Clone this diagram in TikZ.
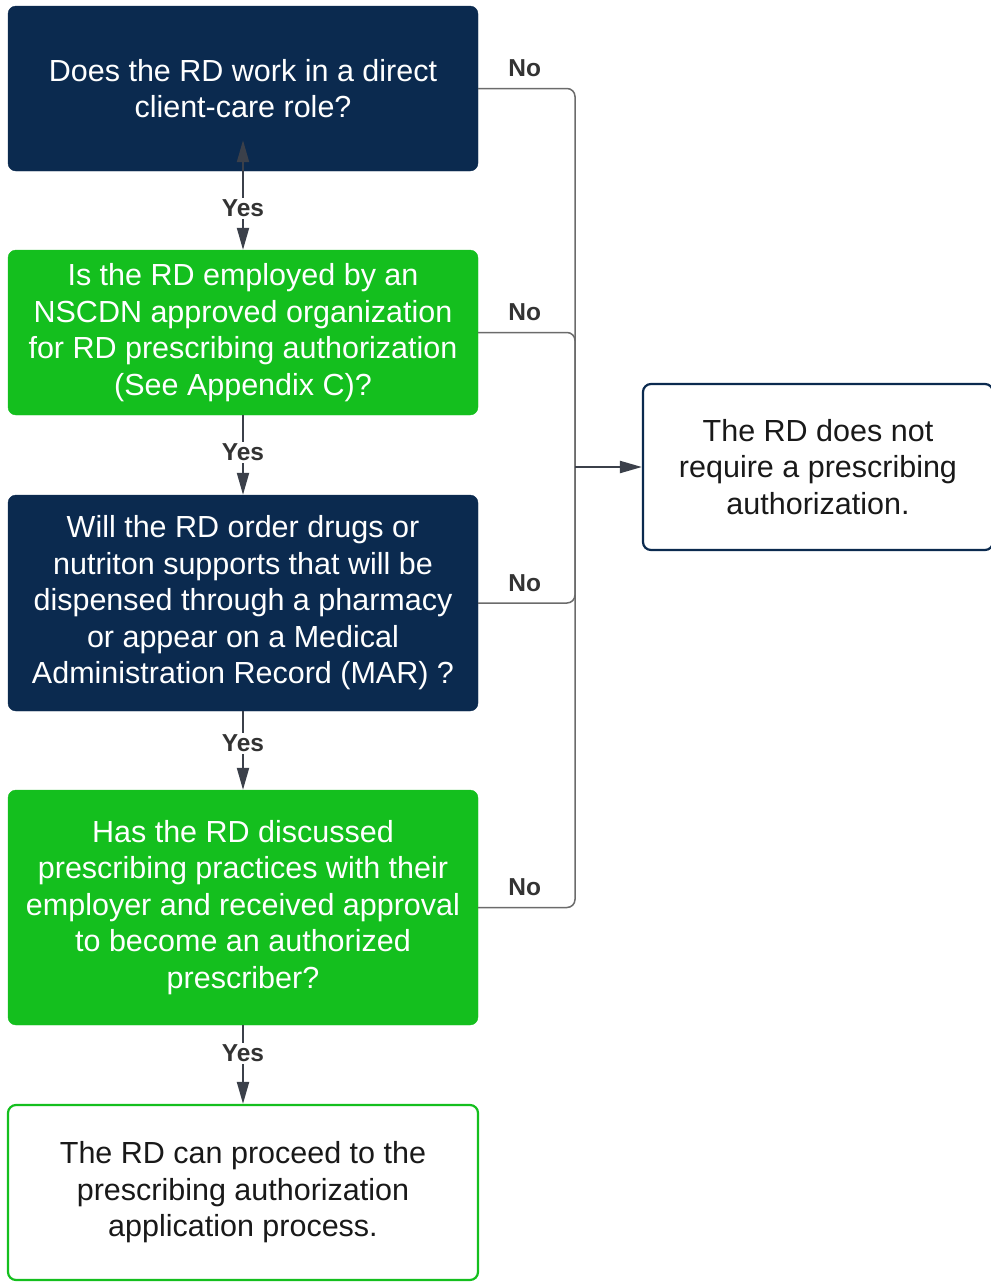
\documentclass[tikz,border=0pt]{standalone}
\usepackage{fontspec}
\setmainfont{Liberation Sans}
\usetikzlibrary{arrows.meta,calc}

\definecolor{navy}{HTML}{0B2A4F}
\definecolor{qgreen}{HTML}{14BF1E}
\definecolor{linegray}{HTML}{6B6B6B}
\definecolor{tipgray}{HTML}{3B404A}
\definecolor{labelgray}{HTML}{333333}

\tikzset{
  question/.style={rectangle, rounded corners=8pt, minimum width=470pt,
    align=center, text=white, font=\fontsize{30.5}{36.5}\selectfont},
  darkq/.style={question, fill=navy, draw=navy},
  greenq/.style={question, fill=qgreen, draw=qgreen},
  outcome/.style={rectangle, rounded corners=8pt, fill=white, line width=2.2pt,
    align=center, text=black!90, font=\fontsize{30.5}{36.5}\selectfont},
  yesline/.style={draw=tipgray, line width=2pt, -{Triangle[length=22pt,width=12pt]}},
  noline/.style={draw=linegray, line width=1.5pt, rounded corners=8pt},
  choice/.style={font=\fontsize{24.5}{28}\selectfont\bfseries, text=labelgray,
    fill=white, inner sep=2pt},
}

\begin{document}
\begin{tikzpicture}[x=1pt,y=-1pt]
\useasboundingbox (0,0) rectangle (991,1283);

% questions
\node[darkq, minimum height=165pt] (q1) at (243,88.5)
  {Does the RD work in a direct\\client-care role?};
\node[greenq, minimum height=165pt] (q2) at (243,332.5)
  {Is the RD employed by an\\NSCDN approved organization\\for RD prescribing authorization\\(See Appendix C)?};
\node[darkq, minimum height=216pt] (q3) at (243,603)
  {Will the RD order drugs or\\nutriton supports that will be\\dispensed through a pharmacy\\or appear on a Medical\\Administration Record (MAR) ?};
\node[greenq, minimum height=235pt] (q4) at (243,907.5)
  {Has the RD discussed\\prescribing practices with their\\employer and received approval\\to become an authorized\\prescriber?};

% outcomes
\node[outcome, draw=qgreen, minimum width=470pt, minimum height=175pt] (go) at (243,1192.5)
  {The RD can proceed to the\\prescribing authorization\\application process.};
\node[outcome, draw=navy, minimum width=350pt, minimum height=166pt] (stop) at (818,467)
  {The RD does not\\require a prescribing\\authorization.};

% yes
\draw[yesline, {Triangle[length=22pt,width=12pt]}-{Triangle[length=22pt,width=12pt]}]
  ($(q1.south)+(0,-31)$) -- node[choice, pos=0.62] {Yes} (q2.north);
\draw[yesline] (q2) -- node[choice, pos=0.47] {Yes} (q3);
\draw[yesline] (q3) -- node[choice, pos=0.41] {Yes} (q4);
\draw[yesline] (q4) -- node[choice, pos=0.36] {Yes} (go);

% no
\coordinate (bus) at (575,467);
\draw[noline] (q1.east) -| node[choice, pos=0.24, above=9pt] {No} (bus);
\draw[noline] (q2.east) -| node[choice, pos=0.24, above=9pt] {No} (bus);
\draw[noline] (q3.east) -| node[choice, pos=0.24, above=9pt] {No} (bus);
\draw[noline] (q4.east) -| node[choice, pos=0.24, above=9pt] {No} (bus);
\draw[yesline, line width=2.2pt] (bus) -- (stop.west);
\end{tikzpicture}
\end{document}
